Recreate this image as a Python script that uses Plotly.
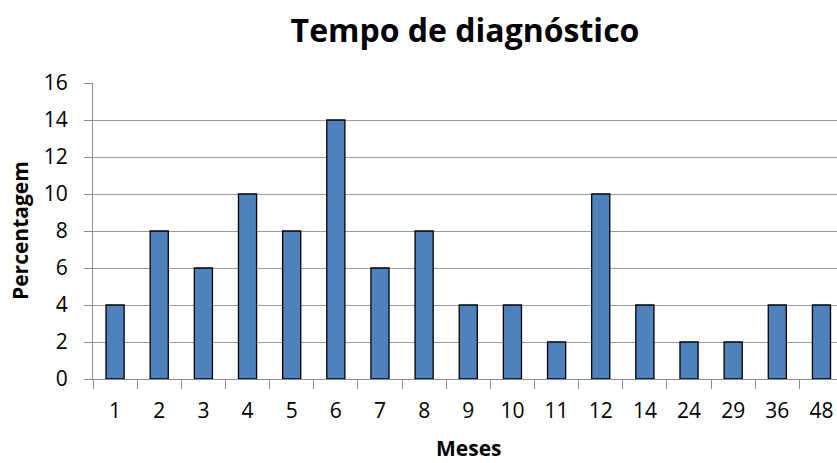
import plotly.graph_objects as go

meses = ["1", "2", "3", "4", "5", "6", "7", "8", "9", "10", "11", "12", "14", "24", "29", "36", "48"]
percentagem = [4, 8, 6, 10, 8, 14, 6, 8, 4, 4, 2, 10, 4, 2, 2, 4, 4]

FONT = "Open Sans, Liberation Sans, sans-serif"
W, H = 837, 463
L, T, B, R = 93, 83, 84, 0

fig = go.Figure(go.Bar(
    x=meses, y=percentagem,
    marker=dict(color="#4F81BD", line=dict(color="#000000", width=1.3)),
    width=0.41,
))

plot_w = W - L - R
plot_h = H - T - B

fig.update_layout(
    width=W, height=H,
    margin=dict(l=L, r=R, t=T, b=B, autoexpand=False),
    paper_bgcolor="white", plot_bgcolor="white",
    title=dict(text="<b>Tempo de diagnóstico</b>", x=0.5, xanchor="center",
               xref="paper",
               y=1 - 31/H, yanchor="middle",
               font=dict(family=FONT, size=32, color="black")),
    font=dict(family=FONT, color="black"),
    showlegend=False,
    annotations=[
        dict(text="<b>Meses</b>", xref="paper", yref="paper",
             x=(469 - L) / plot_w, y=-(448 - (H - B)) / plot_h,
             xanchor="center", yanchor="middle", showarrow=False,
             font=dict(family=FONT, size=21, color="black")),
        dict(text="<b>Percentagem</b>", xref="paper", yref="paper",
             x=-(L - 20) / plot_w, y=0.5, textangle=-90,
             xanchor="center", yanchor="middle", showarrow=False,
             font=dict(family=FONT, size=21, color="black")),
    ],
)

fig.update_xaxes(
    type="category",
    range=[-0.5, -0.5 + plot_w / 44.15],
    showline=True, linecolor="#8c8c8c", linewidth=1,
    ticks="outside", tickson="boundaries", ticklen=9, tickcolor="#8c8c8c",
    tickfont=dict(family=FONT, size=21, color="black"),
    ticklabelstandoff=13,
    showgrid=False,
)

fig.update_yaxes(
    range=[0, 16], dtick=2,
    showline=True, linecolor="#8c8c8c", linewidth=1,
    ticks="outside", ticklen=8, tickcolor="#8c8c8c",
    showgrid=True, gridcolor="#999999", gridwidth=1,
    zeroline=False,
    tickfont=dict(family=FONT, size=21, color="black"),
    ticklabelstandoff=12,
)

fig.write_html("out.html", config={"displayModeBar": False},
               post_script="document.body.style.margin='0';document.body.style.overflow='hidden';")
